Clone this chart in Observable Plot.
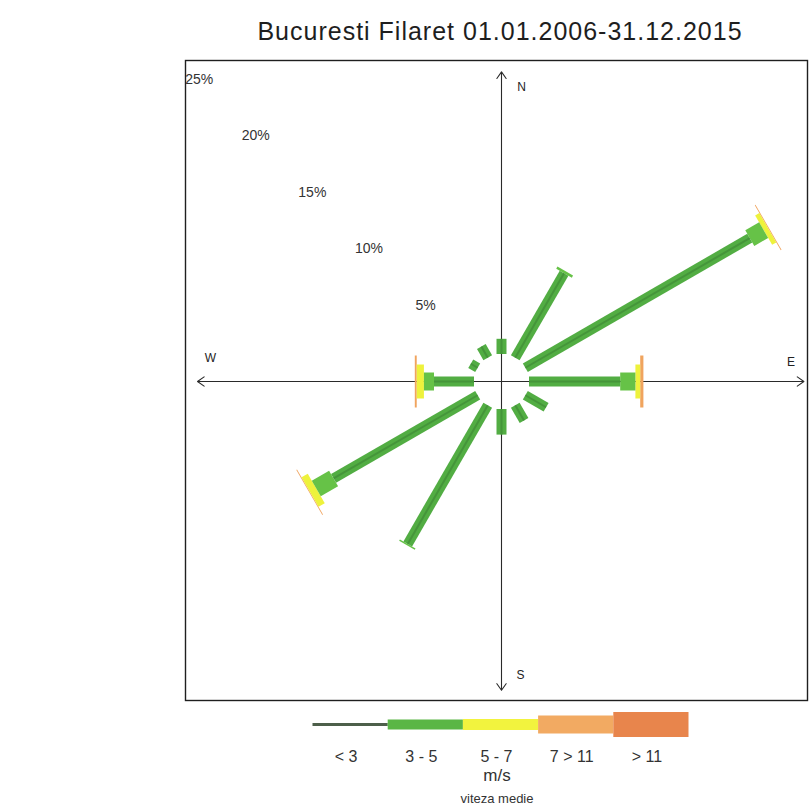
<!DOCTYPE html>
<html>
<head>
<meta charset="utf-8">
<script src="https://cdn.jsdelivr.net/npm/d3@7"></script>
<script src="https://cdn.jsdelivr.net/npm/@observablehq/plot@0.6"></script>
<style>
  body { margin: 0; background: #ffffff; font-family: "Liberation Sans", Arial, sans-serif; }
  #wrap { position: relative; width: 809px; height: 812px; overflow: hidden; background: #fff; }
  #title { position: absolute; left: 0; top: 17px; width: 1000px; text-align: center; font-size: 25px; letter-spacing: 1px; color: #1e1e1e; }
  #rose { position: absolute; left: 0; top: 0; }
  #legend { position: absolute; left: 0; top: 700px; }
  .unit { position: absolute; left: 0; width: 994px; text-align: center; color: #333; }
  #units { top: 766px; font-size: 17px; }
  #caption { top: 791px; font-size: 13px; }
</style>
</head>
<body>
<div id="wrap">
  <div id="rose"></div>
  <div id="legend"></div>
  <div id="title">Bucuresti Filaret 01.01.2006-31.12.2015</div>
  <div class="unit" id="units">m/s</div>
  <div class="unit" id="caption">viteza medie</div>
</div>
<script>
// ---- data ----
const directions = [0, 30, 60, 90, 120, 150, 180, 210, 240, 270, 300, 330]; // degrees from North
const speedClasses = ["< 3", "3 - 5", "5 - 7", "7 > 11", "> 11"];
const pctBelow3  = [0.95, 6.1, 16.2, 5.7, 1.5, 1.1, 1.6, 10.0, 10.4, 2.5, 0.5, 0.8];
const pct3to5    = [0,    0.15, 1.0, 0.95, 0,  0,   0,   0.1,  1.25, 0.63, 0,  0];
const pct5to7    = [0,    0,    0.3, 0.3,  0,  0,   0,   0,    0.45, 0.45, 0,  0];
const pct7to11   = [0,    0,    0.05, 0.2, 0,  0,   0,   0,    0.05, 0.12, 0,  0];
const pctOver11  = [0,    0,    0,    0,   0,  0,   0,   0,    0,    0,    0,  0];
const ringTicks = [5, 10, 15, 20, 25];
const compassNames = ["N", "E", "S", "W"];
const compassAngles = [0, 90, 180, 270];

// ---- styles / layout ----
const pxPerUnit = 16;          // pixels per 1 %
const calm = 27.5 / pxPerUnit; // radius of the calm circle (in % units)
const cx = 501, cy = 381;      // centre in the page
const classColors = ["#52ad43", "#66c247", "#eef23c", "#f0a45e", "#e8824a"];
const classWidths = [10, 18, 34, 52, 60];
const legendColors = ["#4d5f4a", "#5ab645", "#f2f33e", "#f2aa62", "#e8854c"];
const legendWidths = [3, 10, 11, 18, 25];
const axisReach = [19.35, 18.9, 19.3, 19.0];
const labelOffsets = {N: [20, 15], E: [-13, -19], S: [19, -15], W: [13, -23]};

const series = [pctBelow3, pct3to5, pct5to7, pct7to11, pctOver11];
const rad = a => a * Math.PI / 180;

// build segments
const segments = [];
directions.forEach((dir, i) => {
  let r = calm;
  series.forEach((vals, k) => {
    const v = vals[i];
    if (v > 0) segments.push({dir, k, r1: r, r2: r + v});
    r += v;
  });
});
const segX1 = d => d.r1 * Math.sin(rad(d.dir));
const segY1 = d => d.r1 * Math.cos(rad(d.dir));
const segX2 = d => d.r2 * Math.sin(rad(d.dir));
const segY2 = d => d.r2 * Math.cos(rad(d.dir));

const classMarks = [];
for (let k = series.length - 1; k >= 0; k--) {
  classMarks.push(Plot.link(segments.filter(d => d.k === k), {
    x1: segX1, y1: segY1, x2: segX2, y2: segY2,
    stroke: classColors[k], strokeWidth: classWidths[k], strokeLinecap: "butt"
  }));
}
classMarks.push(Plot.link(segments.filter(d => d.k === 0), {
  x1: segX1, y1: segY1, x2: segX2, y2: segY2,
  stroke: "#3a8233", strokeWidth: 2, strokeOpacity: 0.55, strokeLinecap: "butt"
}));

const compass = compassNames.map((name, i) => ({name, angle: compassAngles[i], reach: axisReach[i]}));
const tipX = d => d.reach * Math.sin(rad(d.angle));
const tipY = d => d.reach * Math.cos(rad(d.angle));
const compassLabels = compass.map(c => Plot.text([c], {
  x: tipX, y: tipY, dx: labelOffsets[c.name][0], dy: labelOffsets[c.name][1],
  text: d => d.name, fontSize: 12, fill: "#222"
}));

const W = 809, H = 712;
const mL = 185, mR = 2, mT = 60, mB = 12;

const rose = Plot.plot({
  width: W, height: H,
  marginLeft: mL, marginRight: mR, marginTop: mT, marginBottom: mB,
  x: {domain: [-(cx - mL) / pxPerUnit, (W - mR - cx) / pxPerUnit], axis: null},
  y: {domain: [-(H - mB - cy) / pxPerUnit, (cy - mT) / pxPerUnit], axis: null},
  style: {background: "transparent", fontFamily: "Liberation Sans, Arial, sans-serif"},
  marks: [
    Plot.frame({stroke: "#1f1f1f", strokeWidth: 1.4}),
    Plot.arrow(compass, {
      x1: 0, y1: 0, x2: tipX, y2: tipY,
      stroke: "#2a2a2a", strokeWidth: 1.1, headLength: 11, headAngle: 70
    }),
    ...classMarks,
    ...compassLabels,
    Plot.text(ringTicks, {
      x: d => -(calm + d) * Math.SQRT1_2,
      y: d => (calm + d) * Math.SQRT1_2,
      text: d => d + "%", fontSize: 14, fill: "#333"
    })
  ]
});
document.getElementById("rose").appendChild(rose);

// ---- legend ----
const LH = 66, legendMid = 24;
const legend = Plot.plot({
  width: W, height: LH,
  marginLeft: 312, marginRight: W - 688, marginTop: 0, marginBottom: 0,
  x: {domain: [0, speedClasses.length], axis: null},
  y: {domain: [-(LH - legendMid), legendMid], axis: null},
  style: {background: "transparent", fontFamily: "Liberation Sans, Arial, sans-serif"},
  marks: [
    Plot.link(speedClasses, {
      x1: (d, i) => i, x2: (d, i) => i + 1, y1: 0, y2: 0,
      stroke: (d, i) => legendColors[i],
      strokeWidth: (d, i) => legendWidths[i],
      strokeLinecap: "butt"
    }),
    Plot.text(speedClasses, {
      x: (d, i) => i + 0.5, y: -32, dx: -4,
      text: d => d, fontSize: 16, fill: "#333"
    })
  ]
});
document.getElementById("legend").appendChild(legend);
</script>
</body>
</html>
